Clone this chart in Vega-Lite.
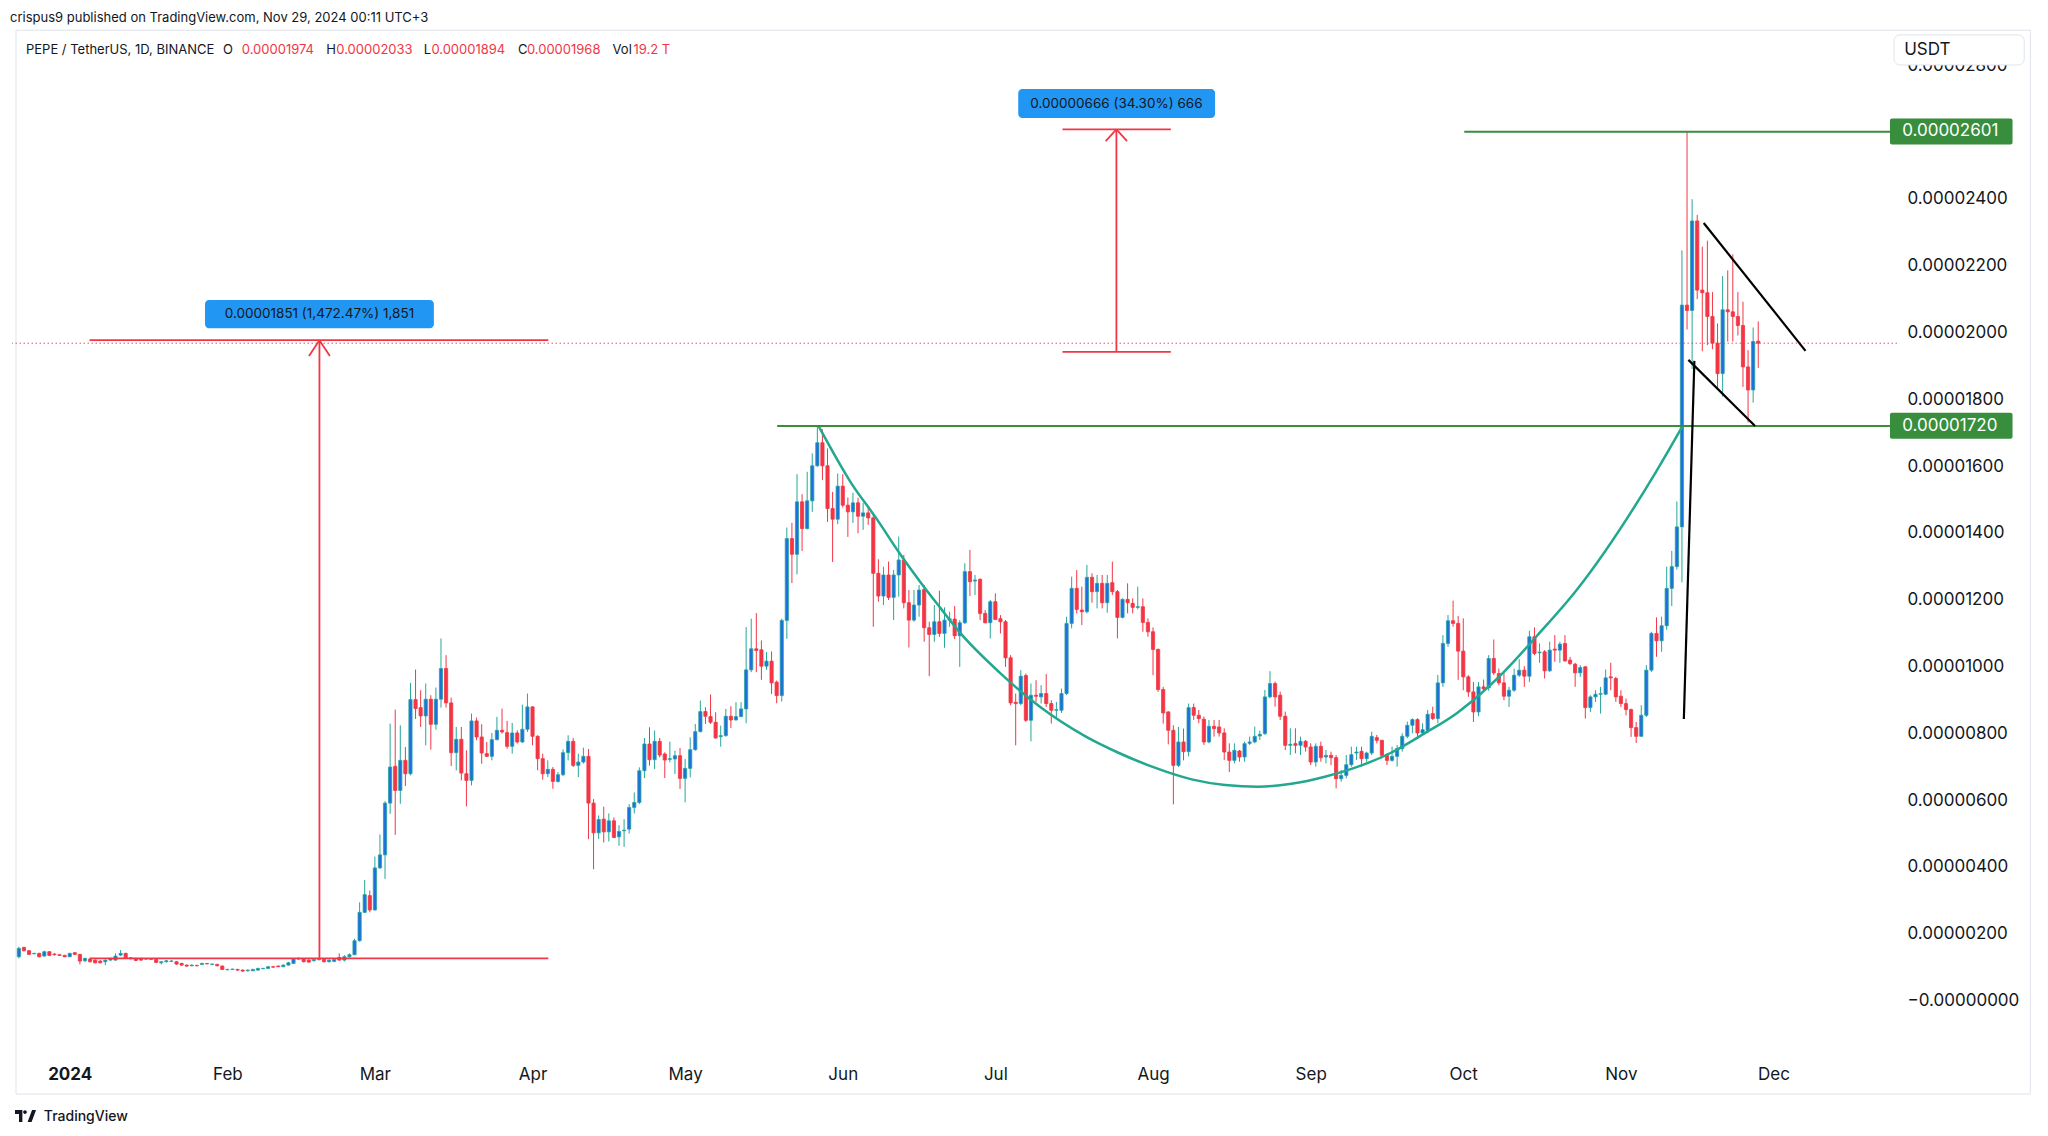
{
"$schema":"https://vega.github.io/schema/vega-lite/v6.json",
"width":1885,"height":1022,
"autosize":"none",
"padding":{"left":12,"top":30,"right":151,"bottom":84},
"background":"#ffffff",
"config":{"view":{"stroke":null},"font":"Inter"},
"title":{"text":"crispus9 published on TradingView.com, Nov 29, 2024 00:11 UTC+3","anchor":"start","frame":"group","offset":5,"dx":-2,"fontSize":13,"fontWeight":"normal","color":"#131722","font":"Inter"},
"datasets":{
"candles":[
{"d":"2023-12-22","o":131e-8,"h":161e-8,"l":126e-8,"c":156e-8},
{"d":"2023-12-23","o":159e-8,"h":161e-8,"l":147e-8,"c":149e-8},
{"d":"2023-12-24","o":149e-8,"h":151e-8,"l":136e-8,"c":138e-8},
{"d":"2023-12-25","o":140e-8,"h":143e-8,"l":138e-8,"c":141e-8},
{"d":"2023-12-26","o":141e-8,"h":143e-8,"l":129e-8,"c":131e-8},
{"d":"2023-12-27","o":133e-8,"h":149e-8,"l":131e-8,"c":146e-8},
{"d":"2023-12-28","o":146e-8,"h":148e-8,"l":133e-8,"c":135e-8},
{"d":"2023-12-29","o":139e-8,"h":142e-8,"l":135e-8,"c":137e-8},
{"d":"2023-12-30","o":137e-8,"h":138e-8,"l":133e-8,"c":135e-8},
{"d":"2023-12-31","o":135e-8,"h":137e-8,"l":130e-8,"c":131e-8},
{"d":"2024-01-01","o":131e-8,"h":143e-8,"l":130e-8,"c":141e-8},
{"d":"2024-01-02","o":143e-8,"h":145e-8,"l":136e-8,"c":138e-8},
{"d":"2024-01-03","o":138e-8,"h":140e-8,"l":108e-8,"c":118e-8},
{"d":"2024-01-04","o":119e-8,"h":128e-8,"l":115e-8,"c":126e-8},
{"d":"2024-01-05","o":124e-8,"h":126e-8,"l":114e-8,"c":116e-8},
{"d":"2024-01-06","o":121e-8,"h":123e-8,"l":111e-8,"c":113e-8},
{"d":"2024-01-07","o":118e-8,"h":121e-8,"l":111e-8,"c":113e-8},
{"d":"2024-01-08","o":116e-8,"h":123e-8,"l":106e-8,"c":121e-8},
{"d":"2024-01-09","o":121e-8,"h":128e-8,"l":119e-8,"c":126e-8},
{"d":"2024-01-10","o":121e-8,"h":141e-8,"l":119e-8,"c":133e-8},
{"d":"2024-01-11","o":136e-8,"h":151e-8,"l":133e-8,"c":141e-8},
{"d":"2024-01-12","o":141e-8,"h":143e-8,"l":126e-8,"c":128e-8},
{"d":"2024-01-13","o":125e-8,"h":130e-8,"l":123e-8,"c":128e-8},
{"d":"2024-01-14","o":126e-8,"h":128e-8,"l":118e-8,"c":120e-8},
{"d":"2024-01-15","o":126e-8,"h":128e-8,"l":119e-8,"c":121e-8},
{"d":"2024-01-16","o":124e-8,"h":127e-8,"l":122e-8,"c":125e-8},
{"d":"2024-01-17","o":123e-8,"h":126e-8,"l":121e-8,"c":124e-8},
{"d":"2024-01-18","o":123e-8,"h":125e-8,"l":112e-8,"c":114e-8},
{"d":"2024-01-19","o":113e-8,"h":118e-8,"l":108e-8,"c":116e-8},
{"d":"2024-01-20","o":116e-8,"h":121e-8,"l":114e-8,"c":119e-8},
{"d":"2024-01-21","o":117e-8,"h":121e-8,"l":115e-8,"c":118e-8},
{"d":"2024-01-22","o":116e-8,"h":118e-8,"l":107e-8,"c":109e-8},
{"d":"2024-01-23","o":111e-8,"h":113e-8,"l":104e-8,"c":106e-8},
{"d":"2024-01-24","o":106e-8,"h":108e-8,"l":101e-8,"c":103e-8},
{"d":"2024-01-25","o":104e-8,"h":108e-8,"l":102e-8,"c":106e-8},
{"d":"2024-01-26","o":105e-8,"h":107e-8,"l":102e-8,"c":104e-8},
{"d":"2024-01-27","o":108e-8,"h":113e-8,"l":106e-8,"c":111e-8},
{"d":"2024-01-28","o":111e-8,"h":112e-8,"l":108e-8,"c":110e-8},
{"d":"2024-01-29","o":108e-8,"h":111e-8,"l":107e-8,"c":109e-8},
{"d":"2024-01-30","o":108e-8,"h":110e-8,"l":102e-8,"c":104e-8},
{"d":"2024-01-31","o":103e-8,"h":105e-8,"l":91e-8,"c":93e-8},
{"d":"2024-02-01","o":92e-8,"h":95e-8,"l":91e-8,"c":93e-8},
{"d":"2024-02-02","o":93e-8,"h":95e-8,"l":91e-8,"c":94e-8},
{"d":"2024-02-03","o":93e-8,"h":95e-8,"l":89e-8,"c":91e-8},
{"d":"2024-02-04","o":91e-8,"h":93e-8,"l":86e-8,"c":88e-8},
{"d":"2024-02-05","o":89e-8,"h":93e-8,"l":87e-8,"c":91e-8},
{"d":"2024-02-06","o":89e-8,"h":95e-8,"l":88e-8,"c":93e-8},
{"d":"2024-02-07","o":91e-8,"h":98e-8,"l":90e-8,"c":96e-8},
{"d":"2024-02-08","o":95e-8,"h":98e-8,"l":94e-8,"c":96e-8},
{"d":"2024-02-09","o":96e-8,"h":103e-8,"l":95e-8,"c":101e-8},
{"d":"2024-02-10","o":101e-8,"h":103e-8,"l":98e-8,"c":100e-8},
{"d":"2024-02-11","o":103e-8,"h":105e-8,"l":100e-8,"c":101e-8},
{"d":"2024-02-12","o":101e-8,"h":108e-8,"l":100e-8,"c":106e-8},
{"d":"2024-02-13","o":106e-8,"h":116e-8,"l":105e-8,"c":113e-8},
{"d":"2024-02-14","o":111e-8,"h":127e-8,"l":110e-8,"c":124e-8},
{"d":"2024-02-15","o":124e-8,"h":129e-8,"l":122e-8,"c":126e-8},
{"d":"2024-02-16","o":124e-8,"h":126e-8,"l":114e-8,"c":116e-8},
{"d":"2024-02-17","o":121e-8,"h":123e-8,"l":113e-8,"c":115e-8},
{"d":"2024-02-18","o":119e-8,"h":125e-8,"l":117e-8,"c":123e-8},
{"d":"2024-02-19","o":122e-8,"h":126e-8,"l":120e-8,"c":123e-8},
{"d":"2024-02-20","o":123e-8,"h":126e-8,"l":114e-8,"c":116e-8},
{"d":"2024-02-21","o":116e-8,"h":123e-8,"l":114e-8,"c":121e-8},
{"d":"2024-02-22","o":117e-8,"h":125e-8,"l":115e-8,"c":123e-8},
{"d":"2024-02-23","o":129e-8,"h":141e-8,"l":119e-8,"c":121e-8},
{"d":"2024-02-24","o":121e-8,"h":136e-8,"l":117e-8,"c":131e-8},
{"d":"2024-02-25","o":131e-8,"h":141e-8,"l":129e-8,"c":137e-8},
{"d":"2024-02-26","o":137e-8,"h":185e-8,"l":136e-8,"c":179e-8},
{"d":"2024-02-27","o":179e-8,"h":294e-8,"l":176e-8,"c":264e-8},
{"d":"2024-02-28","o":264e-8,"h":361e-8,"l":262e-8,"c":317e-8},
{"d":"2024-02-29","o":314e-8,"h":329e-8,"l":264e-8,"c":271e-8},
{"d":"2024-03-01","o":271e-8,"h":431e-8,"l":269e-8,"c":397e-8},
{"d":"2024-03-02","o":397e-8,"h":497e-8,"l":394e-8,"c":436e-8},
{"d":"2024-03-03","o":436e-8,"h":597e-8,"l":364e-8,"c":591e-8},
{"d":"2024-03-04","o":591e-8,"h":829e-8,"l":559e-8,"c":699e-8},
{"d":"2024-03-05","o":701e-8,"h":871e-8,"l":496e-8,"c":629e-8},
{"d":"2024-03-06","o":629e-8,"h":824e-8,"l":589e-8,"c":719e-8},
{"d":"2024-03-07","o":719e-8,"h":759e-8,"l":642e-8,"c":679e-8},
{"d":"2024-03-08","o":679e-8,"h":951e-8,"l":674e-8,"c":901e-8},
{"d":"2024-03-09","o":901e-8,"h":991e-8,"l":843e-8,"c":874e-8},
{"d":"2024-03-10","o":877e-8,"h":929e-8,"l":819e-8,"c":852e-8},
{"d":"2024-03-11","o":852e-8,"h":949e-8,"l":764e-8,"c":902e-8},
{"d":"2024-03-12","o":902e-8,"h":914e-8,"l":751e-8,"c":827e-8},
{"d":"2024-03-13","o":827e-8,"h":937e-8,"l":811e-8,"c":902e-8},
{"d":"2024-03-14","o":902e-8,"h":1084e-8,"l":877e-8,"c":994e-8},
{"d":"2024-03-15","o":994e-8,"h":1034e-8,"l":877e-8,"c":891e-8},
{"d":"2024-03-16","o":891e-8,"h":907e-8,"l":702e-8,"c":742e-8},
{"d":"2024-03-17","o":742e-8,"h":819e-8,"l":689e-8,"c":782e-8},
{"d":"2024-03-18","o":782e-8,"h":819e-8,"l":659e-8,"c":681e-8},
{"d":"2024-03-19","o":679e-8,"h":749e-8,"l":581e-8,"c":659e-8},
{"d":"2024-03-20","o":659e-8,"h":859e-8,"l":644e-8,"c":837e-8},
{"d":"2024-03-21","o":837e-8,"h":847e-8,"l":779e-8,"c":789e-8},
{"d":"2024-03-22","o":789e-8,"h":827e-8,"l":709e-8,"c":741e-8},
{"d":"2024-03-23","o":739e-8,"h":774e-8,"l":729e-8,"c":731e-8},
{"d":"2024-03-24","o":731e-8,"h":801e-8,"l":719e-8,"c":781e-8},
{"d":"2024-03-25","o":781e-8,"h":849e-8,"l":779e-8,"c":809e-8},
{"d":"2024-03-26","o":809e-8,"h":874e-8,"l":799e-8,"c":804e-8},
{"d":"2024-03-27","o":802e-8,"h":837e-8,"l":754e-8,"c":761e-8},
{"d":"2024-03-28","o":761e-8,"h":831e-8,"l":739e-8,"c":801e-8},
{"d":"2024-03-29","o":801e-8,"h":809e-8,"l":769e-8,"c":774e-8},
{"d":"2024-03-30","o":774e-8,"h":886e-8,"l":771e-8,"c":812e-8},
{"d":"2024-03-31","o":812e-8,"h":919e-8,"l":804e-8,"c":879e-8},
{"d":"2024-04-01","o":879e-8,"h":881e-8,"l":764e-8,"c":791e-8},
{"d":"2024-04-02","o":791e-8,"h":794e-8,"l":689e-8,"c":724e-8},
{"d":"2024-04-03","o":724e-8,"h":739e-8,"l":661e-8,"c":679e-8},
{"d":"2024-04-04","o":679e-8,"h":719e-8,"l":669e-8,"c":692e-8},
{"d":"2024-04-05","o":692e-8,"h":699e-8,"l":634e-8,"c":656e-8},
{"d":"2024-04-06","o":656e-8,"h":684e-8,"l":652e-8,"c":676e-8},
{"d":"2024-04-07","o":676e-8,"h":752e-8,"l":672e-8,"c":742e-8},
{"d":"2024-04-08","o":742e-8,"h":794e-8,"l":719e-8,"c":776e-8},
{"d":"2024-04-09","o":776e-8,"h":786e-8,"l":699e-8,"c":704e-8},
{"d":"2024-04-10","o":704e-8,"h":739e-8,"l":669e-8,"c":714e-8},
{"d":"2024-04-11","o":714e-8,"h":757e-8,"l":709e-8,"c":731e-8},
{"d":"2024-04-12","o":731e-8,"h":753e-8,"l":483e-8,"c":591e-8},
{"d":"2024-04-13","o":591e-8,"h":603e-8,"l":393e-8,"c":502e-8},
{"d":"2024-04-14","o":502e-8,"h":554e-8,"l":484e-8,"c":542e-8},
{"d":"2024-04-15","o":543e-8,"h":580e-8,"l":473e-8,"c":505e-8},
{"d":"2024-04-16","o":505e-8,"h":560e-8,"l":476e-8,"c":538e-8},
{"d":"2024-04-17","o":538e-8,"h":548e-8,"l":486e-8,"c":488e-8},
{"d":"2024-04-18","o":490e-8,"h":525e-8,"l":463e-8,"c":506e-8},
{"d":"2024-04-19","o":508e-8,"h":543e-8,"l":460e-8,"c":510e-8},
{"d":"2024-04-20","o":513e-8,"h":588e-8,"l":500e-8,"c":578e-8},
{"d":"2024-04-21","o":578e-8,"h":623e-8,"l":560e-8,"c":593e-8},
{"d":"2024-04-22","o":593e-8,"h":698e-8,"l":588e-8,"c":688e-8},
{"d":"2024-04-23","o":688e-8,"h":786e-8,"l":666e-8,"c":768e-8},
{"d":"2024-04-24","o":768e-8,"h":818e-8,"l":703e-8,"c":721e-8},
{"d":"2024-04-25","o":721e-8,"h":808e-8,"l":693e-8,"c":776e-8},
{"d":"2024-04-26","o":776e-8,"h":786e-8,"l":728e-8,"c":735e-8},
{"d":"2024-04-27","o":738e-8,"h":743e-8,"l":666e-8,"c":720e-8},
{"d":"2024-04-28","o":722e-8,"h":775e-8,"l":713e-8,"c":724e-8},
{"d":"2024-04-29","o":723e-8,"h":748e-8,"l":678e-8,"c":733e-8},
{"d":"2024-04-30","o":733e-8,"h":756e-8,"l":633e-8,"c":665e-8},
{"d":"2024-05-01","o":665e-8,"h":723e-8,"l":593e-8,"c":695e-8},
{"d":"2024-05-02","o":695e-8,"h":788e-8,"l":668e-8,"c":751e-8},
{"d":"2024-05-03","o":751e-8,"h":828e-8,"l":748e-8,"c":805e-8},
{"d":"2024-05-04","o":805e-8,"h":898e-8,"l":803e-8,"c":865e-8},
{"d":"2024-05-05","o":865e-8,"h":878e-8,"l":828e-8,"c":851e-8},
{"d":"2024-05-06","o":850e-8,"h":916e-8,"l":828e-8,"c":833e-8},
{"d":"2024-05-07","o":833e-8,"h":863e-8,"l":784e-8,"c":786e-8},
{"d":"2024-05-08","o":790e-8,"h":823e-8,"l":760e-8,"c":793e-8},
{"d":"2024-05-09","o":793e-8,"h":873e-8,"l":790e-8,"c":851e-8},
{"d":"2024-05-10","o":851e-8,"h":881e-8,"l":816e-8,"c":840e-8},
{"d":"2024-05-11","o":840e-8,"h":893e-8,"l":838e-8,"c":850e-8},
{"d":"2024-05-12","o":850e-8,"h":893e-8,"l":848e-8,"c":873e-8},
{"d":"2024-05-13","o":873e-8,"h":1118e-8,"l":830e-8,"c":990e-8},
{"d":"2024-05-14","o":990e-8,"h":1143e-8,"l":983e-8,"c":1053e-8},
{"d":"2024-05-15","o":1053e-8,"h":1160e-8,"l":983e-8,"c":1048e-8},
{"d":"2024-05-16","o":1050e-8,"h":1078e-8,"l":960e-8,"c":1001e-8},
{"d":"2024-05-17","o":1001e-8,"h":1043e-8,"l":990e-8,"c":1016e-8},
{"d":"2024-05-18","o":1016e-8,"h":1045e-8,"l":918e-8,"c":951e-8},
{"d":"2024-05-19","o":953e-8,"h":958e-8,"l":890e-8,"c":913e-8},
{"d":"2024-05-20","o":913e-8,"h":1143e-8,"l":895e-8,"c":1138e-8},
{"d":"2024-05-21","o":1138e-8,"h":1416e-8,"l":1083e-8,"c":1383e-8},
{"d":"2024-05-22","o":1383e-8,"h":1430e-8,"l":1250e-8,"c":1336e-8},
{"d":"2024-05-23","o":1336e-8,"h":1576e-8,"l":1276e-8,"c":1493e-8},
{"d":"2024-05-24","o":1493e-8,"h":1516e-8,"l":1346e-8,"c":1413e-8},
{"d":"2024-05-25","o":1413e-8,"h":1583e-8,"l":1410e-8,"c":1496e-8},
{"d":"2024-05-26","o":1496e-8,"h":1638e-8,"l":1463e-8,"c":1601e-8},
{"d":"2024-05-27","o":1601e-8,"h":1723e-8,"l":1598e-8,"c":1670e-8},
{"d":"2024-05-28","o":1670e-8,"h":1710e-8,"l":1558e-8,"c":1601e-8},
{"d":"2024-05-29","o":1601e-8,"h":1653e-8,"l":1433e-8,"c":1473e-8},
{"d":"2024-05-30","o":1473e-8,"h":1523e-8,"l":1313e-8,"c":1441e-8},
{"d":"2024-05-31","o":1441e-8,"h":1578e-8,"l":1426e-8,"c":1540e-8},
{"d":"2024-06-01","o":1540e-8,"h":1576e-8,"l":1476e-8,"c":1483e-8},
{"d":"2024-06-02","o":1483e-8,"h":1506e-8,"l":1388e-8,"c":1463e-8},
{"d":"2024-06-03","o":1463e-8,"h":1520e-8,"l":1430e-8,"c":1490e-8},
{"d":"2024-06-04","o":1490e-8,"h":1505e-8,"l":1399e-8,"c":1450e-8},
{"d":"2024-06-05","o":1450e-8,"h":1490e-8,"l":1409e-8,"c":1460e-8},
{"d":"2024-06-06","o":1460e-8,"h":1480e-8,"l":1424e-8,"c":1445e-8},
{"d":"2024-06-07","o":1445e-8,"h":1460e-8,"l":1119e-8,"c":1279e-8},
{"d":"2024-06-08","o":1279e-8,"h":1321e-8,"l":1194e-8,"c":1211e-8},
{"d":"2024-06-09","o":1211e-8,"h":1299e-8,"l":1184e-8,"c":1274e-8},
{"d":"2024-06-10","o":1274e-8,"h":1314e-8,"l":1199e-8,"c":1207e-8},
{"d":"2024-06-11","o":1207e-8,"h":1289e-8,"l":1139e-8,"c":1274e-8},
{"d":"2024-06-12","o":1274e-8,"h":1389e-8,"l":1209e-8,"c":1319e-8},
{"d":"2024-06-13","o":1319e-8,"h":1334e-8,"l":1174e-8,"c":1191e-8},
{"d":"2024-06-14","o":1191e-8,"h":1229e-8,"l":1057e-8,"c":1139e-8},
{"d":"2024-06-15","o":1139e-8,"h":1229e-8,"l":1134e-8,"c":1184e-8},
{"d":"2024-06-16","o":1184e-8,"h":1244e-8,"l":1149e-8,"c":1229e-8},
{"d":"2024-06-17","o":1231e-8,"h":1244e-8,"l":1074e-8,"c":1116e-8},
{"d":"2024-06-18","o":1116e-8,"h":1134e-8,"l":971e-8,"c":1096e-8},
{"d":"2024-06-19","o":1096e-8,"h":1184e-8,"l":1074e-8,"c":1134e-8},
{"d":"2024-06-20","o":1134e-8,"h":1227e-8,"l":1089e-8,"c":1099e-8},
{"d":"2024-06-21","o":1099e-8,"h":1177e-8,"l":1056e-8,"c":1139e-8},
{"d":"2024-06-22","o":1139e-8,"h":1164e-8,"l":1119e-8,"c":1143e-8},
{"d":"2024-06-23","o":1142e-8,"h":1181e-8,"l":1082e-8,"c":1092e-8},
{"d":"2024-06-24","o":1092e-8,"h":1139e-8,"l":999e-8,"c":1131e-8},
{"d":"2024-06-25","o":1131e-8,"h":1309e-8,"l":1127e-8,"c":1284e-8},
{"d":"2024-06-26","o":1284e-8,"h":1349e-8,"l":1211e-8,"c":1254e-8},
{"d":"2024-06-27","o":1256e-8,"h":1274e-8,"l":1214e-8,"c":1259e-8},
{"d":"2024-06-28","o":1261e-8,"h":1264e-8,"l":1139e-8,"c":1159e-8},
{"d":"2024-06-29","o":1159e-8,"h":1169e-8,"l":1129e-8,"c":1131e-8},
{"d":"2024-06-30","o":1131e-8,"h":1199e-8,"l":1084e-8,"c":1194e-8},
{"d":"2024-07-01","o":1194e-8,"h":1219e-8,"l":1139e-8,"c":1141e-8},
{"d":"2024-07-02","o":1143e-8,"h":1154e-8,"l":1099e-8,"c":1134e-8},
{"d":"2024-07-03","o":1134e-8,"h":1139e-8,"l":999e-8,"c":1026e-8},
{"d":"2024-07-04","o":1026e-8,"h":1034e-8,"l":884e-8,"c":891e-8},
{"d":"2024-07-05","o":893e-8,"h":919e-8,"l":764e-8,"c":889e-8},
{"d":"2024-07-06","o":889e-8,"h":989e-8,"l":884e-8,"c":971e-8},
{"d":"2024-07-07","o":973e-8,"h":979e-8,"l":834e-8,"c":839e-8},
{"d":"2024-07-08","o":839e-8,"h":949e-8,"l":776e-8,"c":914e-8},
{"d":"2024-07-09","o":914e-8,"h":959e-8,"l":894e-8,"c":911e-8},
{"d":"2024-07-10","o":909e-8,"h":944e-8,"l":889e-8,"c":919e-8},
{"d":"2024-07-11","o":919e-8,"h":977e-8,"l":879e-8,"c":889e-8},
{"d":"2024-07-12","o":889e-8,"h":899e-8,"l":829e-8,"c":869e-8},
{"d":"2024-07-13","o":869e-8,"h":894e-8,"l":844e-8,"c":871e-8},
{"d":"2024-07-14","o":869e-8,"h":934e-8,"l":861e-8,"c":919e-8},
{"d":"2024-07-15","o":919e-8,"h":1149e-8,"l":914e-8,"c":1129e-8},
{"d":"2024-07-16","o":1129e-8,"h":1269e-8,"l":1114e-8,"c":1234e-8},
{"d":"2024-07-17","o":1234e-8,"h":1289e-8,"l":1159e-8,"c":1171e-8},
{"d":"2024-07-18","o":1169e-8,"h":1239e-8,"l":1124e-8,"c":1164e-8},
{"d":"2024-07-19","o":1164e-8,"h":1304e-8,"l":1159e-8,"c":1267e-8},
{"d":"2024-07-20","o":1267e-8,"h":1279e-8,"l":1191e-8,"c":1224e-8},
{"d":"2024-07-21","o":1224e-8,"h":1274e-8,"l":1174e-8,"c":1249e-8},
{"d":"2024-07-22","o":1249e-8,"h":1274e-8,"l":1174e-8,"c":1191e-8},
{"d":"2024-07-23","o":1191e-8,"h":1274e-8,"l":1161e-8,"c":1249e-8},
{"d":"2024-07-24","o":1251e-8,"h":1314e-8,"l":1214e-8,"c":1224e-8},
{"d":"2024-07-25","o":1224e-8,"h":1229e-8,"l":1084e-8,"c":1147e-8},
{"d":"2024-07-26","o":1147e-8,"h":1204e-8,"l":1144e-8,"c":1201e-8},
{"d":"2024-07-27","o":1201e-8,"h":1249e-8,"l":1159e-8,"c":1191e-8},
{"d":"2024-07-28","o":1189e-8,"h":1204e-8,"l":1159e-8,"c":1177e-8},
{"d":"2024-07-29","o":1177e-8,"h":1239e-8,"l":1171e-8,"c":1179e-8},
{"d":"2024-07-30","o":1179e-8,"h":1204e-8,"l":1104e-8,"c":1132e-8},
{"d":"2024-07-31","o":1132e-8,"h":1144e-8,"l":1089e-8,"c":1104e-8},
{"d":"2024-08-01","o":1104e-8,"h":1117e-8,"l":974e-8,"c":1051e-8},
{"d":"2024-08-02","o":1051e-8,"h":1054e-8,"l":924e-8,"c":931e-8},
{"d":"2024-08-03","o":931e-8,"h":939e-8,"l":829e-8,"c":861e-8},
{"d":"2024-08-04","o":864e-8,"h":866e-8,"l":767e-8,"c":809e-8},
{"d":"2024-08-05","o":809e-8,"h":824e-8,"l":587e-8,"c":704e-8},
{"d":"2024-08-06","o":704e-8,"h":819e-8,"l":699e-8,"c":774e-8},
{"d":"2024-08-07","o":774e-8,"h":814e-8,"l":719e-8,"c":745e-8},
{"d":"2024-08-08","o":745e-8,"h":889e-8,"l":731e-8,"c":877e-8},
{"d":"2024-08-09","o":877e-8,"h":889e-8,"l":840e-8,"c":854e-8},
{"d":"2024-08-10","o":854e-8,"h":870e-8,"l":830e-8,"c":844e-8},
{"d":"2024-08-11","o":842e-8,"h":850e-8,"l":765e-8,"c":774e-8},
{"d":"2024-08-12","o":774e-8,"h":840e-8,"l":770e-8,"c":821e-8},
{"d":"2024-08-13","o":821e-8,"h":840e-8,"l":790e-8,"c":814e-8},
{"d":"2024-08-14","o":819e-8,"h":840e-8,"l":790e-8,"c":801e-8},
{"d":"2024-08-15","o":801e-8,"h":815e-8,"l":720e-8,"c":744e-8},
{"d":"2024-08-16","o":744e-8,"h":770e-8,"l":684e-8,"c":719e-8},
{"d":"2024-08-17","o":719e-8,"h":770e-8,"l":710e-8,"c":749e-8},
{"d":"2024-08-18","o":747e-8,"h":750e-8,"l":715e-8,"c":729e-8},
{"d":"2024-08-19","o":729e-8,"h":775e-8,"l":715e-8,"c":769e-8},
{"d":"2024-08-20","o":770e-8,"h":790e-8,"l":765e-8,"c":774e-8},
{"d":"2024-08-21","o":774e-8,"h":820e-8,"l":770e-8,"c":791e-8},
{"d":"2024-08-22","o":792e-8,"h":808e-8,"l":780e-8,"c":797e-8},
{"d":"2024-08-23","o":799e-8,"h":930e-8,"l":795e-8,"c":909e-8},
{"d":"2024-08-24","o":909e-8,"h":986e-8,"l":905e-8,"c":949e-8},
{"d":"2024-08-25","o":949e-8,"h":955e-8,"l":880e-8,"c":909e-8},
{"d":"2024-08-26","o":914e-8,"h":925e-8,"l":840e-8,"c":851e-8},
{"d":"2024-08-27","o":851e-8,"h":865e-8,"l":750e-8,"c":764e-8},
{"d":"2024-08-28","o":764e-8,"h":815e-8,"l":735e-8,"c":767e-8},
{"d":"2024-08-29","o":769e-8,"h":815e-8,"l":740e-8,"c":764e-8},
{"d":"2024-08-30","o":764e-8,"h":790e-8,"l":735e-8,"c":776e-8},
{"d":"2024-08-31","o":776e-8,"h":780e-8,"l":745e-8,"c":759e-8},
{"d":"2024-09-01","o":759e-8,"h":770e-8,"l":705e-8,"c":714e-8},
{"d":"2024-09-02","o":714e-8,"h":770e-8,"l":700e-8,"c":761e-8},
{"d":"2024-09-03","o":761e-8,"h":775e-8,"l":715e-8,"c":727e-8},
{"d":"2024-09-04","o":729e-8,"h":750e-8,"l":710e-8,"c":734e-8},
{"d":"2024-09-05","o":734e-8,"h":745e-8,"l":705e-8,"c":727e-8},
{"d":"2024-09-06","o":727e-8,"h":735e-8,"l":635e-8,"c":664e-8},
{"d":"2024-09-07","o":664e-8,"h":690e-8,"l":655e-8,"c":674e-8},
{"d":"2024-09-08","o":674e-8,"h":735e-8,"l":665e-8,"c":706e-8},
{"d":"2024-09-09","o":706e-8,"h":760e-8,"l":700e-8,"c":736e-8},
{"d":"2024-09-10","o":741e-8,"h":760e-8,"l":720e-8,"c":744e-8},
{"d":"2024-09-11","o":746e-8,"h":760e-8,"l":700e-8,"c":724e-8},
{"d":"2024-09-12","o":724e-8,"h":745e-8,"l":715e-8,"c":741e-8},
{"d":"2024-09-13","o":741e-8,"h":805e-8,"l":735e-8,"c":791e-8},
{"d":"2024-09-14","o":787e-8,"h":795e-8,"l":770e-8,"c":779e-8},
{"d":"2024-09-15","o":779e-8,"h":780e-8,"l":725e-8,"c":734e-8},
{"d":"2024-09-16","o":734e-8,"h":740e-8,"l":705e-8,"c":719e-8},
{"d":"2024-09-17","o":719e-8,"h":760e-8,"l":715e-8,"c":731e-8},
{"d":"2024-09-18","o":731e-8,"h":765e-8,"l":700e-8,"c":754e-8},
{"d":"2024-09-19","o":754e-8,"h":800e-8,"l":745e-8,"c":791e-8},
{"d":"2024-09-20","o":791e-8,"h":835e-8,"l":785e-8,"c":824e-8},
{"d":"2024-09-21","o":824e-8,"h":845e-8,"l":800e-8,"c":841e-8},
{"d":"2024-09-22","o":841e-8,"h":845e-8,"l":785e-8,"c":801e-8},
{"d":"2024-09-23","o":801e-8,"h":830e-8,"l":795e-8,"c":811e-8},
{"d":"2024-09-24","o":809e-8,"h":870e-8,"l":800e-8,"c":857e-8},
{"d":"2024-09-25","o":859e-8,"h":880e-8,"l":840e-8,"c":844e-8},
{"d":"2024-09-26","o":844e-8,"h":975e-8,"l":830e-8,"c":951e-8},
{"d":"2024-09-27","o":951e-8,"h":1094e-8,"l":939e-8,"c":1069e-8},
{"d":"2024-09-28","o":1069e-8,"h":1154e-8,"l":1059e-8,"c":1137e-8},
{"d":"2024-09-29","o":1137e-8,"h":1197e-8,"l":1119e-8,"c":1129e-8},
{"d":"2024-09-30","o":1129e-8,"h":1151e-8,"l":960e-8,"c":1046e-8},
{"d":"2024-10-01","o":1046e-8,"h":1144e-8,"l":929e-8,"c":969e-8},
{"d":"2024-10-02","o":969e-8,"h":974e-8,"l":909e-8,"c":924e-8},
{"d":"2024-10-03","o":924e-8,"h":954e-8,"l":834e-8,"c":864e-8},
{"d":"2024-10-04","o":864e-8,"h":954e-8,"l":851e-8,"c":939e-8},
{"d":"2024-10-05","o":939e-8,"h":961e-8,"l":929e-8,"c":933e-8},
{"d":"2024-10-06","o":936e-8,"h":1034e-8,"l":927e-8,"c":1024e-8},
{"d":"2024-10-07","o":1024e-8,"h":1081e-8,"l":974e-8,"c":981e-8},
{"d":"2024-10-08","o":979e-8,"h":994e-8,"l":944e-8,"c":951e-8},
{"d":"2024-10-09","o":951e-8,"h":984e-8,"l":899e-8,"c":911e-8},
{"d":"2024-10-10","o":911e-8,"h":939e-8,"l":879e-8,"c":929e-8},
{"d":"2024-10-11","o":929e-8,"h":994e-8,"l":924e-8,"c":974e-8},
{"d":"2024-10-12","o":974e-8,"h":1022e-8,"l":969e-8,"c":989e-8},
{"d":"2024-10-13","o":989e-8,"h":1001e-8,"l":939e-8,"c":971e-8},
{"d":"2024-10-14","o":971e-8,"h":1107e-8,"l":954e-8,"c":1089e-8},
{"d":"2024-10-15","o":1089e-8,"h":1117e-8,"l":1034e-8,"c":1039e-8},
{"d":"2024-10-16","o":1041e-8,"h":1069e-8,"l":1011e-8,"c":1043e-8},
{"d":"2024-10-17","o":1044e-8,"h":1049e-8,"l":964e-8,"c":987e-8},
{"d":"2024-10-18","o":987e-8,"h":1074e-8,"l":984e-8,"c":1049e-8},
{"d":"2024-10-19","o":1052e-8,"h":1094e-8,"l":1014e-8,"c":1049e-8},
{"d":"2024-10-20","o":1049e-8,"h":1074e-8,"l":1011e-8,"c":1067e-8},
{"d":"2024-10-21","o":1069e-8,"h":1094e-8,"l":1014e-8,"c":1017e-8},
{"d":"2024-10-22","o":1019e-8,"h":1029e-8,"l":1004e-8,"c":1009e-8},
{"d":"2024-10-23","o":1007e-8,"h":1011e-8,"l":939e-8,"c":981e-8},
{"d":"2024-10-24","o":981e-8,"h":1004e-8,"l":969e-8,"c":997e-8},
{"d":"2024-10-25","o":999e-8,"h":1001e-8,"l":844e-8,"c":877e-8},
{"d":"2024-10-26","o":877e-8,"h":914e-8,"l":864e-8,"c":909e-8},
{"d":"2024-10-27","o":909e-8,"h":929e-8,"l":894e-8,"c":917e-8},
{"d":"2024-10-28","o":917e-8,"h":939e-8,"l":859e-8,"c":919e-8},
{"d":"2024-10-29","o":917e-8,"h":991e-8,"l":914e-8,"c":966e-8},
{"d":"2024-10-30","o":969e-8,"h":1011e-8,"l":929e-8,"c":966e-8},
{"d":"2024-10-31","o":964e-8,"h":969e-8,"l":894e-8,"c":909e-8},
{"d":"2024-11-01","o":911e-8,"h":929e-8,"l":879e-8,"c":889e-8},
{"d":"2024-11-02","o":889e-8,"h":904e-8,"l":854e-8,"c":871e-8},
{"d":"2024-11-03","o":871e-8,"h":874e-8,"l":789e-8,"c":817e-8},
{"d":"2024-11-04","o":817e-8,"h":834e-8,"l":771e-8,"c":791e-8},
{"d":"2024-11-05","o":791e-8,"h":884e-8,"l":789e-8,"c":854e-8},
{"d":"2024-11-06","o":854e-8,"h":1004e-8,"l":849e-8,"c":989e-8},
{"d":"2024-11-07","o":989e-8,"h":1104e-8,"l":984e-8,"c":1099e-8},
{"d":"2024-11-08","o":1099e-8,"h":1147e-8,"l":1029e-8,"c":1077e-8},
{"d":"2024-11-09","o":1077e-8,"h":1149e-8,"l":1044e-8,"c":1122e-8},
{"d":"2024-11-10","o":1122e-8,"h":1299e-8,"l":1110e-8,"c":1234e-8},
{"d":"2024-11-11","o":1234e-8,"h":1346e-8,"l":1181e-8,"c":1299e-8},
{"d":"2024-11-12","o":1299e-8,"h":1494e-8,"l":1290e-8,"c":1418e-8},
{"d":"2024-11-13","o":1418e-8,"h":2246e-8,"l":1252e-8,"c":2082e-8},
{"d":"2024-11-14","o":2082e-8,"h":2601e-8,"l":2009e-8,"c":2066e-8},
{"d":"2024-11-15","o":2066e-8,"h":2399e-8,"l":1891e-8,"c":2334e-8},
{"d":"2024-11-16","o":2334e-8,"h":2352e-8,"l":2100e-8,"c":2127e-8},
{"d":"2024-11-17","o":2127e-8,"h":2257e-8,"l":1944e-8,"c":2119e-8},
{"d":"2024-11-18","o":2119e-8,"h":2275e-8,"l":1962e-8,"c":2048e-8},
{"d":"2024-11-19","o":2048e-8,"h":2121e-8,"l":1950e-8,"c":1968e-8},
{"d":"2024-11-20","o":1968e-8,"h":2027e-8,"l":1832e-8,"c":1877e-8},
{"d":"2024-11-21","o":1877e-8,"h":2169e-8,"l":1808e-8,"c":2068e-8},
{"d":"2024-11-22","o":2068e-8,"h":2186e-8,"l":1973e-8,"c":2062e-8},
{"d":"2024-11-23","o":2062e-8,"h":2234e-8,"l":1973e-8,"c":2048e-8},
{"d":"2024-11-24","o":2048e-8,"h":2121e-8,"l":1991e-8,"c":2021e-8},
{"d":"2024-11-25","o":2021e-8,"h":2092e-8,"l":1837e-8,"c":1897e-8},
{"d":"2024-11-26","o":1897e-8,"h":1947e-8,"l":1731e-8,"c":1828e-8},
{"d":"2024-11-27","o":1828e-8,"h":2015e-8,"l":1790e-8,"c":1973e-8},
{"d":"2024-11-28","o":1974e-8,"h":2033e-8,"l":1894e-8,"c":1968e-8}
],
"cup":[
{"t":"2024-05-27T04:48:00Z","v":1721e-8},
{"t":"2024-06-02T12:00:00Z","v":1553e-8},
{"t":"2024-06-07T19:12:00Z","v":1439e-8},
{"t":"2024-06-12T07:12:00Z","v":1336e-8},
{"t":"2024-06-16T04:48:00Z","v":1254e-8},
{"t":"2024-06-20T02:24:00Z","v":1177e-8},
{"t":"2024-06-24T00:00:00Z","v":1102e-8},
{"t":"2024-07-01T21:36:00Z","v":981e-8},
{"t":"2024-07-09T16:48:00Z","v":880e-8},
{"t":"2024-07-18T19:12:00Z","v":790e-8},
{"t":"2024-07-25T07:12:00Z","v":741e-8},
{"t":"2024-07-31T19:12:00Z","v":700e-8},
{"t":"2024-08-08T14:24:00Z","v":662e-8},
{"t":"2024-08-15T04:48:00Z","v":645e-8},
{"t":"2024-08-21T16:48:00Z","v":640e-8},
{"t":"2024-08-28T04:48:00Z","v":649e-8},
{"t":"2024-09-03T19:12:00Z","v":670e-8},
{"t":"2024-09-10T07:12:00Z","v":700e-8},
{"t":"2024-09-16T16:48:00Z","v":741e-8},
{"t":"2024-09-23T07:12:00Z","v":799e-8},
{"t":"2024-09-29T19:12:00Z","v":861e-8},
{"t":"2024-10-02T09:36:00Z","v":892e-8},
{"t":"2024-10-09T00:00:00Z","v":984e-8},
{"t":"2024-10-15T12:00:00Z","v":1092e-8},
{"t":"2024-10-23T07:12:00Z","v":1229e-8},
{"t":"2024-11-07T21:36:00Z","v":1583e-8},
{"t":"2024-11-13T04:48:00Z","v":1722e-8}
]
},
"layer":[
{"data":{"name":"candles"},
 "mark":{"type":"rule","strokeWidth":1},
 "encoding":{
  "x":{"field":"d","type":"temporal","scale":{"type":"utc","domain":[1703171577600,1735024320000]},
   "axis":{"orient":"bottom","title":null,"values":[1704067200000,1706745600000,1709251200000,1711929600000,1714521600000,1717200000000,1719792000000,1722470400000,1725148800000,1727740800000,1730419200000,1733011200000],
    "labelExpr":"utcmonth(datum.value) == 0 ? '2024' : utcFormat(datum.value, '%b')",
    "labelFontWeight":{"condition":{"test":"utcmonth(datum.value) == 0","value":"bold"},"value":"normal"},
    "labelFontSize":17,"labelFont":"Inter","labelColor":"#131722","labelPadding":14,"ticks":false,"domain":false,"grid":false,"labelFlush":false,"labelOverlap":false,"labelBound":false}},
  "y":{"field":"l","type":"quantitative","scale":{"domain":[-154.2e-8,2905.7e-8],"nice":false,"zero":false},
   "axis":{"orient":"right","title":null,"values":[0,200e-8,400e-8,600e-8,800e-8,1000e-8,1200e-8,1400e-8,1600e-8,1800e-8,2000e-8,2200e-8,2400e-8,2800e-8],
    "labelExpr":"datum.value < 1e-9 ? '\u22120.00000000' : format(datum.value, '.8f')",
    "labelFontSize":17,"labelFont":"Inter","labelColor":"#131722","labelPadding":10,"ticks":false,"domain":false,"grid":false,"labelOverlap":false,"labelBound":false,"labelFlush":false}},
  "y2":{"field":"h"},
  "color":{"condition":{"test":"datum.c >= datum.o","value":"#26a69a"},"value":"#f23645"}}},
{"data":{"values":[{"x":"2023-12-21T10:30:00Z","x2":"2025-01-20T12:00:00Z","y":-280e-8,"y2":2905e-8}]},
 "mark":{"type":"rect","fillOpacity":0,"stroke":"#e0e3eb","strokeWidth":1},
 "encoding":{"x":{"field":"x","type":"temporal","title":null},"x2":{"field":"x2"},
  "y":{"field":"y","type":"quantitative","title":null},"y2":{"field":"y2"}}},
{"data":{"values":[{"p":1968e-8}]},
 "mark":{"type":"rule","stroke":"#f23645","strokeWidth":1,"strokeDash":[1.5,2.5],"opacity":0.85},
 "encoding":{"y":{"field":"p","type":"quantitative","title":null}}},
{"data":{"name":"candles"},
 "mark":{"type":"bar","size":3.2,"strokeWidth":0.8},
 "encoding":{
  "x":{"field":"d","type":"temporal","title":null},
  "y":{"field":"o","type":"quantitative","title":null},
  "y2":{"field":"c"},
  "fill":{"condition":{"test":"datum.c >= datum.o","value":"#1f6fe0"},"value":"#f23645"},
  "stroke":{"condition":{"test":"datum.c >= datum.o","value":"#26a69a"},"value":"#f23645"}}},
{"data":{"name":"cup"},
 "mark":{"type":"line","stroke":"#22a88f","strokeWidth":2.5,"interpolate":"monotone"},
 "encoding":{
  "x":{"field":"t","type":"temporal","title":null},
  "y":{"field":"v","type":"quantitative","title":null}}},
{"data":{"values":[{"x":"2024-10-01T04:48:00Z","x2":"2025-02-01T00:00:00Z","y":2601e-8},{"x":"2024-05-19T02:24:00Z","x2":"2025-02-01T00:00:00Z","y":1720e-8}]},
 "mark":{"type":"rule","stroke":"#388e3c","strokeWidth":2,"clip":true},
 "encoding":{
  "x":{"field":"x","type":"temporal","title":null},"x2":{"field":"x2"},
  "y":{"field":"y","type":"quantitative","title":null}}},
{"data":{"values":[
 {"x":"2024-01-04T21:36:00Z","y":1977e-8,"x2":"2024-04-04T02:24:00Z","y2":1977e-8},
 {"x":"2024-01-04T21:36:00Z","y":126e-8,"x2":"2024-04-04T02:24:00Z","y2":126e-8},
 {"x":"2024-02-19T02:24:00Z","y":126e-8,"x2":"2024-02-19T02:24:00Z","y2":1977e-8},
 {"x":"2024-02-17T01:12:00Z","y":1930e-8,"x2":"2024-02-19T02:24:00Z","y2":1977e-8},
 {"x":"2024-02-21T03:36:00Z","y":1930e-8,"x2":"2024-02-19T02:24:00Z","y2":1977e-8},
 {"x":"2024-07-14T04:48:00Z","y":2608e-8,"x2":"2024-08-04T12:00:00Z","y2":2608e-8},
 {"x":"2024-07-14T04:48:00Z","y":1942e-8,"x2":"2024-08-04T12:00:00Z","y2":1942e-8},
 {"x":"2024-07-24T19:12:00Z","y":1942e-8,"x2":"2024-07-24T19:12:00Z","y2":2608e-8},
 {"x":"2024-07-22T16:48:00Z","y":2573e-8,"x2":"2024-07-24T19:12:00Z","y2":2608e-8},
 {"x":"2024-07-26T21:36:00Z","y":2573e-8,"x2":"2024-07-24T19:12:00Z","y2":2608e-8}]},
 "mark":{"type":"rule","stroke":"#f23645","strokeWidth":1.8},
 "encoding":{
  "x":{"field":"x","type":"temporal","title":null},"x2":{"field":"x2"},
  "y":{"field":"y","type":"quantitative","title":null},"y2":{"field":"y2"}}},
{"data":{"values":[
 {"x":"2024-11-13T08:53:00Z","y":843e-8,"x2":"2024-11-15T10:34:00Z","y2":1915e-8},
 {"x":"2024-11-14T06:29:00Z","y":1918e-8,"x2":"2024-11-27T08:53:00Z","y2":1720e-8},
 {"x":"2024-11-17T06:43:00Z","y":2328e-8,"x2":"2024-12-07T06:58:00Z","y2":1945e-8}]},
 "mark":{"type":"rule","stroke":"#000000","strokeWidth":2.2},
 "encoding":{
  "x":{"field":"x","type":"temporal","title":null},"x2":{"field":"x2"},
  "y":{"field":"y","type":"quantitative","title":null},"y2":{"field":"y2"}}},
{"data":{"values":[
 {"x":"2024-01-27T14:24:00Z","x2":"2024-03-12T14:24:00Z","y":2013e-8,"y2":2097e-8},
 {"x":"2024-07-05T12:00:00Z","x2":"2024-08-13T04:48:00Z","y":2642e-8,"y2":2729e-8}]},
 "mark":{"type":"rect","fill":"#2196f3","cornerRadius":4},
 "encoding":{
  "x":{"field":"x","type":"temporal","title":null},"x2":{"field":"x2"},
  "y":{"field":"y","type":"quantitative","title":null},"y2":{"field":"y2"}}},
{"data":{"values":[
 {"x":"2024-02-19T02:24:00Z","y":2055e-8,"t":"0.00001851 (1,472.47%) 1,851"},
 {"x":"2024-07-24T19:12:00Z","y":2685e-8,"t":"0.00000666 (34.30%) 666"}]},
 "mark":{"type":"text","align":"center","baseline":"middle","fontSize":13.5,"font":"Inter","color":"#131722"},
 "encoding":{
  "x":{"field":"x","type":"temporal","title":null},
  "y":{"field":"y","type":"quantitative","title":null},
  "text":{"field":"t"}}},
{"data":{"values":[
 {"x":"2024-12-23T21:36:00Z","x2":"2025-01-17T00:00:00Z","y":2563e-8,"y2":2641e-8},
 {"x":"2024-12-23T21:36:00Z","x2":"2025-01-17T00:00:00Z","y":1682e-8,"y2":1760e-8}]},
 "mark":{"type":"rect","fill":"#388e3c","cornerRadius":2},
 "encoding":{
  "x":{"field":"x","type":"temporal","title":null},"x2":{"field":"x2"},
  "y":{"field":"y","type":"quantitative","title":null},"y2":{"field":"y2"}}},
{"data":{"values":[
 {"x":"2024-12-26T07:12:00Z","y":2602e-8,"t":"0.00002601"},
 {"x":"2024-12-26T07:12:00Z","y":1721e-8,"t":"0.00001720"}]},
 "mark":{"type":"text","align":"left","baseline":"middle","fontSize":17,"font":"Inter","color":"#ffffff"},
 "encoding":{
  "x":{"field":"x","type":"temporal","title":null},
  "y":{"field":"y","type":"quantitative","title":null},
  "text":{"field":"t"}}},
{"data":{"values":[{"x":"2024-12-24T16:48:00Z","x2":"2025-01-19T07:12:00Z","y":2801e-8,"y2":2891e-8}]},
 "mark":{"type":"rect","fill":"#ffffff","stroke":"#e0e3eb","strokeWidth":1,"cornerRadius":6},
 "encoding":{
  "x":{"field":"x","type":"temporal","title":null},"x2":{"field":"x2"},
  "y":{"field":"y","type":"quantitative","title":null},"y2":{"field":"y2"}}},
{"data":{"values":[
 {"x":"2024-12-26T16:48:00Z","y":2846e-8,"t":"USDT","k":"a"},
 {"x":"2023-12-23T09:29:00Z","y":2846e-8,"t":"PEPE / TetherUS, 1D, BINANCE","k":"a"},
 {"x":"2024-01-31T02:53:00Z","y":2846e-8,"t":"O","k":"a"},
 {"x":"2024-02-03T20:10:00Z","y":2846e-8,"t":"0.00001974","k":"b"},
 {"x":"2024-02-20T11:02:00Z","y":2846e-8,"t":"H","k":"a"},
 {"x":"2024-02-22T10:05:00Z","y":2846e-8,"t":"0.00002033","k":"b"},
 {"x":"2024-03-10T15:07:00Z","y":2846e-8,"t":"L","k":"a"},
 {"x":"2024-03-12T02:38:00Z","y":2846e-8,"t":"0.00001894","k":"b"},
 {"x":"2024-03-29T03:07:00Z","y":2846e-8,"t":"C","k":"a"},
 {"x":"2024-03-30T21:22:00Z","y":2846e-8,"t":"0.00001968","k":"b"},
 {"x":"2024-04-16T17:31:00Z","y":2846e-8,"t":"Vol","k":"a"},
 {"x":"2024-04-20T19:55:00Z","y":2846e-8,"t":"19.2 T","k":"b"}]},
 "mark":{"type":"text","align":"left","baseline":"middle","font":"Inter"},
 "encoding":{
  "x":{"field":"x","type":"temporal","title":null},
  "y":{"field":"y","type":"quantitative","title":null},
  "text":{"field":"t"},
  "size":{"condition":{"test":"datum.t == 'USDT'","value":17},"value":13},
  "color":{"field":"k","type":"nominal","scale":{"domain":["a","b"],"range":["#131722","#f23645"]},"legend":null}}},
{"data":{"values":[{"x":"2023-12-23T07:26:00Z","y":-346e-8}]},
 "mark":{"type":"point","filled":true,"color":"#131722","opacity":1,"size":441,
  "shape":"M-1,-0.57 H-0.3 V0.57 H-0.62 V-0.2 H-1 Z M-0.23,-0.38 A0.18,0.18 0 1 0 0.13,-0.38 A0.18,0.18 0 1 0 -0.23,-0.38 Z M0.2,0.57 L0.62,-0.57 H1 L0.58,0.57 Z"},
 "encoding":{
  "x":{"field":"x","type":"temporal","title":null},
  "y":{"field":"y","type":"quantitative","title":null}}},
{"data":{"values":[{"x":"2023-12-26T21:50:00Z","y":-349e-8,"t":"TradingView"}]},
 "mark":{"type":"text","align":"left","baseline":"middle","fontSize":14,"fontWeight":500,"font":"Inter","color":"#131722"},
 "encoding":{
  "x":{"field":"x","type":"temporal","title":null},
  "y":{"field":"y","type":"quantitative","title":null},
  "text":{"field":"t"}}}
]
}
